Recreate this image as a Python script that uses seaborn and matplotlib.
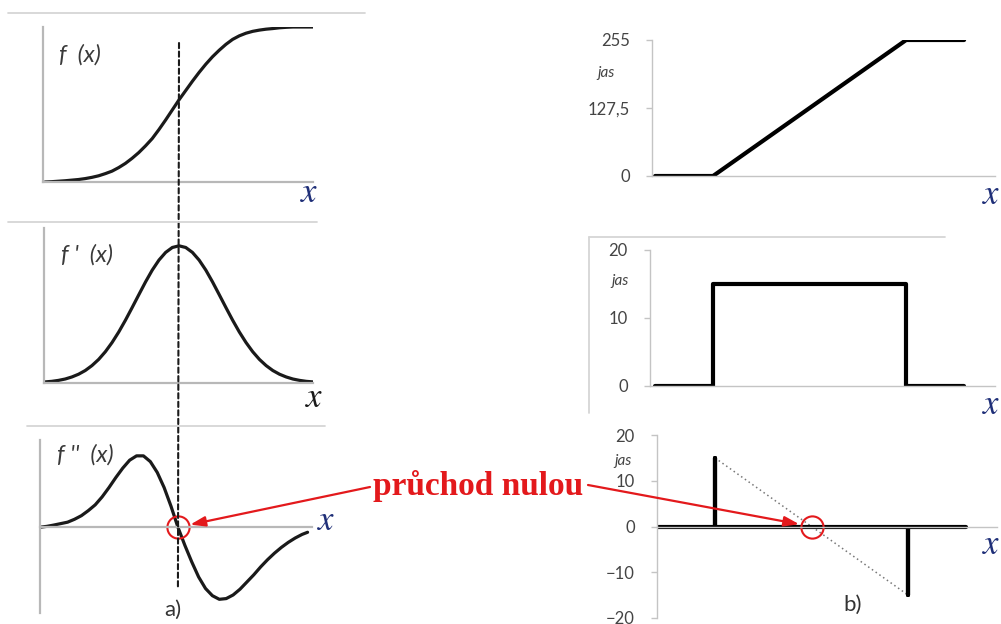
import matplotlib
matplotlib.use("Agg")
import matplotlib.pyplot as plt
import seaborn as sns
from matplotlib.lines import Line2D
from matplotlib.patches import ConnectionPatch

# ── left column: smooth edge profile ──────────────────────────────────────
curve_x = [0, 0.25, 0.5, 0.75, 1, 1.25, 1.5, 1.75, 2, 2.25, 2.5, 2.75, 3, 3.25,
           3.5, 3.75, 4, 4.25, 4.5, 4.75, 5, 5.25, 5.5, 5.75, 6, 6.25, 6.5,
           6.75, 7, 7.25, 7.5, 7.75, 8, 8.25, 8.5, 8.75, 9, 9.25, 9.5, 9.75, 10]
f_vals  = [0.0, 0.002, 0.005, 0.008, 0.012, 0.016, 0.022, 0.03, 0.04, 0.054,
           0.07, 0.093, 0.12, 0.153, 0.19, 0.233, 0.28, 0.338, 0.40, 0.465,
           0.53, 0.59, 0.65, 0.707, 0.76, 0.808, 0.85, 0.888, 0.92, 0.943,
           0.96, 0.972, 0.98, 0.986, 0.99, 0.995, 0.998, 1.0, 1.0, 1.0, 1.0]
df_vals = [0.008, 0.012, 0.019, 0.029, 0.044, 0.064, 0.091, 0.127, 0.172, 0.228,
           0.295, 0.372, 0.458, 0.550, 0.644, 0.737, 0.823, 0.896, 0.952, 0.988,
           1.0, 0.988, 0.952, 0.896, 0.823, 0.737, 0.644, 0.550, 0.458, 0.372,
           0.295, 0.228, 0.172, 0.127, 0.091, 0.064, 0.044, 0.029, 0.019, 0.012, 0.008]
d2_x    = [0, 0.25, 0.5, 0.75, 1, 1.25, 1.5, 1.75, 2, 2.25, 2.5, 2.75, 3, 3.25,
           3.5, 3.75, 4, 4.25, 4.5, 4.75, 5, 5.25, 5.5, 5.75, 6, 6.25, 6.5,
           6.75, 7, 7.25, 7.5, 7.75, 8, 8.25, 8.5, 8.75, 9, 9.25, 9.5, 9.7]
d2_vals = [0.0, 0.012, 0.03, 0.05, 0.07, 0.11, 0.16, 0.23, 0.31, 0.42, 0.55,
           0.69, 0.82, 0.93, 0.99, 0.99, 0.91, 0.76, 0.55, 0.29, 0.0, -0.25,
           -0.48, -0.69, -0.85, -0.95, -1.0, -0.99, -0.94, -0.86, -0.76, -0.66,
           -0.55, -0.45, -0.36, -0.28, -0.21, -0.15, -0.10, -0.07]

# ── right column: discrete brightness ramp (jas) ──────────────────────────
ramp_x = [0, 3, 13, 16]
ramp_y = [0, 0, 255, 255]
step_x = [0, 3, 3, 13, 13, 16]
step_y = [0, 0, 15, 15, 0, 0]
lap_x  = [0, 3, 3, 3, 13, 13, 13, 16]
lap_y  = [0, 0, 15, 0, 0, -15, 0, 0]
trend_x = [3, 13]
trend_y = [15, -15]

ramp_ticks  = [0, 127.5, 255]
ramp_labels = ["0", "127,5", "255"]
step_ticks  = [0, 10, 20]
lap_ticks   = [-20, -10, 0, 10, 20]

W, H = 1001, 624
RED   = "#e3191c"
INK   = "#1a1a1a"
GREY  = "#b8b8b8"
NAVY  = "#1f2f78"

sns.set_style("white")
plt.rcParams["font.family"] = ["Lato", "DejaVu Sans"]

fig = plt.figure(figsize=(W / 100, H / 100), dpi=100)


def box(x0, y0, x1, y1):
    # axes placed by pixel box (top-left origin)
    return fig.add_axes([x0 / W, 1 - y1 / H, (x1 - x0) / W, (y1 - y0) / H])


def fline(x0, y0, x1, y1, **kw):
    fig.add_artist(Line2D([x0 / W, x1 / W], [1 - y0 / H, 1 - y1 / H],
                          transform=fig.transFigure, **kw))


def ftext(x, y, s, **kw):
    fig.text(x / W, 1 - y / H, s, ha="center", va="center", **kw)


# ── left panels ───────────────────────────────────────────────────────────
ax1 = box(43, 27, 313, 182)
ax2 = box(44, 228, 313, 383)
ax3 = box(40, 440, 312, 613)

line_kw = dict(color=INK, lw=2.3, solid_joinstyle="round", solid_capstyle="round")
sns.lineplot(x=curve_x, y=f_vals, ax=ax1, **line_kw)
sns.lineplot(x=curve_x, y=df_vals, ax=ax2, **line_kw)
sns.lineplot(x=d2_x, y=d2_vals, ax=ax3, **line_kw)

ax1.set(xlim=(-0.075, 10), ylim=(0, 1))
ax2.set(xlim=(-0.04, 10), ylim=(0, 1.13))
ax3.set(xlim=(0, 9.86), ylim=(-1.19, 1.21))
ax3.spines["bottom"].set_position(("data", 0))

for ax in (ax1, ax2, ax3):
    ax.set_xticks([])
    ax.set_yticks([])
    ax.set_xlabel("")
    ax.set_ylabel("")
    ax.patch.set_alpha(0)
    for s in ("top", "right"):
        ax.spines[s].set_visible(False)
    for s in ("left", "bottom"):
        ax.spines[s].set_color(GREY)
        ax.spines[s].set_linewidth(1.6)

# separators (top edges of the original chart boxes)
fline(8, 13, 365, 13, color="#d6d6d6", lw=1.3)
fline(8, 222, 317, 222, color="#d6d6d6", lw=1.3)
fline(27, 426, 325, 426, color="#d6d6d6", lw=1.3)

lab_kw = dict(color="#3a3a3a", fontsize=17, style="italic")
ftext(80, 55, "f  (x)", **lab_kw)
ftext(87, 255, "f '  (x)", **lab_kw)
ftext(85, 455, "f ''  (x)", **lab_kw)

chi_kw = dict(fontsize=25, math_fontfamily="stix")
ftext(309, 192, r"$x$", color=NAVY, **chi_kw)
ftext(314, 397, r"$x$", color=INK, **chi_kw)
ftext(326, 520, r"$x$", color=NAVY, **chi_kw)

# dashed guide through the inflection point
guide = ConnectionPatch(xyA=(5, (182 - 43) / 155), coordsA=ax1.get_xaxis_transform(),
                        xyB=(5, (613 - 588) / 173), coordsB=ax3.get_xaxis_transform(),
                        color=INK, lw=1.5, linestyle=(0, (2.5, 1.6)))
fig.add_artist(guide)

ftext(173, 610, "a)", color="#333333", fontsize=16)

# ── right panels ──────────────────────────────────────────────────────────
r1 = box(652, 40, 995, 176)
r2 = box(650, 250, 995, 386)
r3 = box(657, 435, 997, 618)

sns.lineplot(x=ramp_x, y=ramp_y, ax=r1, color="black", lw=3,
             estimator=None, sort=False)
sns.lineplot(x=step_x, y=step_y, ax=r2, color="black", lw=3,
             estimator=None, sort=False)
sns.lineplot(x=trend_x, y=trend_y, ax=r3, color="#777777", lw=1.1,
             linestyle=(0, (1, 2)), estimator=None, sort=False)
sns.lineplot(x=lap_x, y=lap_y, ax=r3, color="black", lw=3,
             estimator=None, sort=False)

r1.set(xlim=(-0.16, 17.6), ylim=(0, 255))
r1.set_yticks(ramp_ticks)
r1.set_yticklabels(ramp_labels)
r2.set(xlim=(-0.26, 17.6), ylim=(0, 20))
r2.set_yticks(step_ticks)
r3.set(xlim=(0, 17.6), ylim=(-20, 20))
r3.set_yticks(lap_ticks)
r3.spines["bottom"].set_position(("data", 0))

for ax in (r1, r2, r3):
    ax.set_xticks([])
    ax.set_xlabel("")
    ax.set_ylabel("")
    ax.patch.set_alpha(0)
    for s in ("top", "right"):
        ax.spines[s].set_visible(False)
    for s in ("left", "bottom"):
        ax.spines[s].set_color("#c4c4c4")
        ax.spines[s].set_linewidth(1.0)
    ax.tick_params(axis="y", left=True, length=4, width=1, color="#c4c4c4",
                   labelcolor="#444444", labelsize=12, pad=12)

jas_kw = dict(color="#444444", fontsize=11, style="italic")
ftext(606, 73, "jas", **jas_kw)
ftext(620, 281, "jas", **jas_kw)
ftext(623, 461, "jas", **jas_kw)

ftext(991, 194, r"$x$", color=NAVY, **chi_kw)
ftext(991, 404, r"$x$", color=NAVY, **chi_kw)
ftext(991, 544, r"$x$", color=NAVY, **chi_kw)

# frame fragment of the middle-right chart box
fline(589, 237, 945, 237, color="#d6d6d6", lw=1.3)
fline(589, 237, 589, 413, color="#d6d6d6", lw=1.3)

ftext(853, 605, "b)", color="#333333", fontsize=16)

# ── zero-crossing annotation ─────────────────────────────────────────────
ax3.plot([5], [0], marker="o", ms=16, mfc="none", mec=RED, mew=1.5, clip_on=False)
r3.plot([8], [0], marker="o", ms=16, mfc="none", mec=RED, mew=1.5, clip_on=False)

ftext(478, 486, "průchod nulou", color=RED, fontsize=24, fontweight="bold",
      family="Liberation Serif")

arrow = dict(arrowstyle="-|>,head_length=0.9,head_width=0.3", color=RED, lw=1.6,
             shrinkA=0, shrinkB=9)
ax3.annotate("", xy=(5, 0), xycoords="data",
             xytext=(370, H - 487), textcoords="figure pixels", arrowprops=arrow)
r3.annotate("", xy=(8, 0), xycoords="data",
            xytext=(588, H - 485), textcoords="figure pixels", arrowprops=arrow)

fig.savefig("out.png", dpi=100)
plt.close(fig)
